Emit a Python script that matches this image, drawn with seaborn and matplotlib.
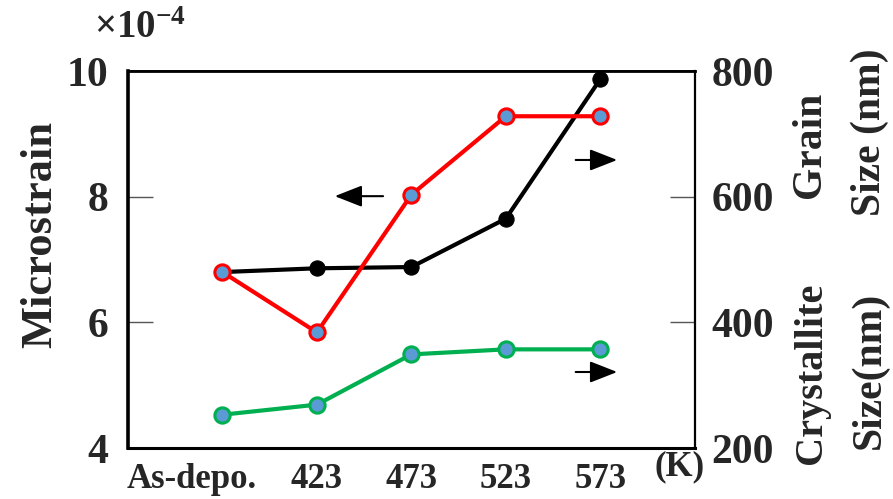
import matplotlib
matplotlib.use("Agg")
import matplotlib.pyplot as plt
import matplotlib.transforms as mtransforms
import seaborn as sns
import pandas as pd

categories = ["As-depo.", "423", "473", "523", "573"]
microstrain = [6.8, 5.84, 8.03, 9.28, 9.28]        # x1e-4, left axis
grain_size = [480, 486, 488, 565, 787]              # nm, right axis
crystallite_size = [253, 269, 349, 357, 357]        # nm, right axis
left_ticks = [4, 6, 8, 10]
right_ticks = [200, 400, 600, 800]

sns.set_theme(style="white")
plt.rcParams["font.family"] = ["Liberation Serif", "DejaVu Serif"]
plt.rcParams["font.weight"] = "bold"
plt.rcParams["mathtext.fontset"] = "custom"
plt.rcParams["mathtext.rm"] = "Liberation Serif:bold"
plt.rcParams["mathtext.bf"] = "Liberation Serif:bold"
plt.rcParams["mathtext.it"] = "Liberation Serif:bold"

df = pd.DataFrame({"pos": range(len(categories)), "cat": categories,
                   "strain": microstrain, "grain": grain_size,
                   "cryst": crystallite_size})

fig = plt.figure(figsize=(8.93, 4.99), dpi=100)
ax = fig.add_axes([0.1433, 0.1022, 0.6347, 0.7555])
ax2 = ax.twinx()
ax.set_zorder(ax2.get_zorder() + 1)
ax.patch.set_visible(False)

blue = "#5B9BD5"
sns.lineplot(data=df, x="pos", y="grain", ax=ax2, color="black", lw=3,
             marker="o", markersize=11, markerfacecolor="black",
             markeredgecolor="black")
sns.lineplot(data=df, x="pos", y="cryst", ax=ax2, color="#00B050", lw=3,
             marker="o", markersize=11, markerfacecolor=blue,
             markeredgecolor="#00B050", markeredgewidth=2.2)
sns.lineplot(data=df, x="pos", y="strain", ax=ax, color="#FF0000", lw=3,
             marker="o", markersize=11, markerfacecolor=blue,
             markeredgecolor="#FF0000", markeredgewidth=2.2)

ax.set_xlim(-1, 5)
ax.set_ylim(4, 10)
ax2.set_ylim(200, 800)
ax.set_yticks(left_ticks)
ax.set_yticklabels([str(t) for t in left_ticks])
ax2.set_yticks(right_ticks)
ax2.set_yticklabels([str(t) for t in right_ticks])
ax.set_xticks(range(len(categories)))
ax.set_xticklabels(categories)
ax.set_xlabel("")
ax.set_ylabel("")
ax2.set_ylabel("")

ax.tick_params(axis="x", length=0, pad=11, labelsize=25)
ax.tick_params(axis="y", direction="in", length=18, width=1, color="#555555",
               pad=14, labelsize=30)
ax2.tick_params(axis="y", direction="in", length=18, width=1, color="#555555",
                pad=12, labelsize=30)
for lab in ax.get_xticklabels() + ax.get_yticklabels() + ax2.get_yticklabels():
    lab.set_fontweight("bold")

# shift the long first tick label to the left
shift = mtransforms.ScaledTranslation(-31 / 100, 0, fig.dpi_scale_trans)
first = ax.get_xticklabels()[0]
first.set_transform(first.get_transform() + shift)

for a in (ax, ax2):
    for s in a.spines.values():
        s.set_color("black")
        s.set_visible(True)
ax.spines["left"].set_linewidth(2.6)
ax.spines["bottom"].set_linewidth(2.2)
ax.spines["top"].set_linewidth(2.0)
ax.spines["right"].set_visible(False)
ax2.spines["right"].set_linewidth(1.6)
ax2.spines["left"].set_visible(False)

# arrows
arrow_kw = dict(arrowstyle="-|>,head_length=1.4,head_width=0.55", color="black", lw=1.5)
ax.annotate("", xy=(0.360, 0.668), xytext=(0.455, 0.668),
            xycoords="axes fraction", arrowprops=arrow_kw)
ax.annotate("", xy=(0.868, 0.764), xytext=(0.785, 0.764),
            xycoords="axes fraction", arrowprops=arrow_kw)
ax.annotate("", xy=(0.868, 0.2016), xytext=(0.785, 0.2016),
            xycoords="axes fraction", arrowprops=arrow_kw)

# texts
fig.text(680 / 893, 1 - 467 / 499, "(K)", ha="center", va="center",
         fontsize=25, fontweight="bold")
fig.text(140 / 893, 1 - 28 / 499, r"$\times$10$^{-4}$", ha="center", va="center",
         fontsize=28, fontweight="bold")
fig.text(40 / 893, 1 - 234 / 499, "Microstrain", rotation=90, ha="center",
         va="center", fontsize=32, fontweight="bold")
fig.text(810 / 893, 1 - 145 / 499, "Grain", rotation=90, ha="center",
         va="center", fontsize=30, fontweight="bold")
fig.text(870 / 893, 1 - 132 / 499, "Size (nm)", rotation=90, ha="center",
         va="center", fontsize=30, fontweight="bold")
fig.text(812 / 893, 1 - 373 / 499, "Crystallite", rotation=90, ha="center",
         va="center", fontsize=29, fontweight="bold")
fig.text(870 / 893, 1 - 370 / 499, "Size(nm)", rotation=90, ha="center",
         va="center", fontsize=30, fontweight="bold")

fig.savefig("out.png", dpi=100)
